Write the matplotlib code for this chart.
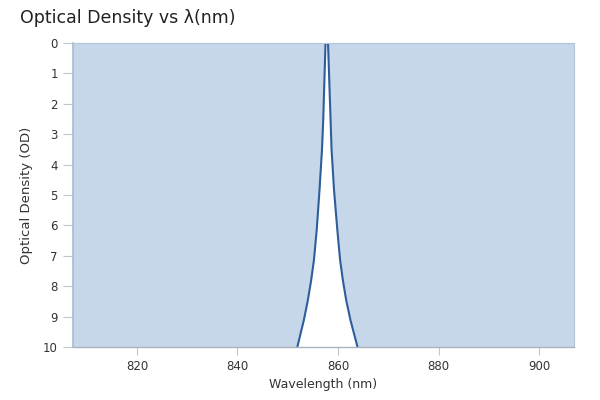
import matplotlib.pyplot as plt

# values (OD beyond 10 runs off the plot)
wavelength = [807.0, 850.0, 852.0, 853.2, 854.0, 854.65, 855.2, 855.75, 856.3,
              856.8, 857.05, 857.5, 857.75, 858.0, 858.5, 858.7, 859.2,
              859.85, 860.4, 860.95, 861.6, 862.45, 863.75, 866.0, 907.0]
od = [11.3, 11.3, 9.93, 9.11, 8.45, 7.8, 7.14, 6.15, 4.85,
      3.5, 2.5, 0.0, 0.0, 0.0, 2.5, 3.5, 4.85,
      6.15, 7.14, 7.8, 8.45, 9.11, 9.93, 11.5, 11.5]

x_ticks = [820, 840, 860, 880, 900]
y_ticks = list(range(0, 11))

fill_col = '#c6d7ea'
line_col = '#2e5d9b'
grey = '#a9b3bf'
txt = '#333333'

plt.rcParams['font.family'] = ['DejaVu Sans']

fig = plt.figure(figsize=(6, 4), dpi=100)
ax = fig.add_axes([73 / 600, 1 - 347 / 400, (574 - 73) / 600, (347 - 43) / 400])

ax.fill_between(wavelength, 0, od, color=fill_col, lw=0)
ax.plot(wavelength, od, color=line_col, lw=1.5)

ax.set_xlim(807.3, 906.9)
ax.set_ylim(10, 0)
ax.set_xticks(x_ticks)
ax.set_yticks(y_ticks)

for s in ['top', 'right']:
    ax.spines[s].set_color('#b4c4d6')
    ax.spines[s].set_linewidth(0.8)
ax.spines['left'].set_color('#a7bbd3')
ax.spines['left'].set_linewidth(1.2)
ax.spines['bottom'].set_color(grey)
ax.spines['bottom'].set_linewidth(1.0)

ax.tick_params(axis='y', length=7, width=0.8, color='#c0c6ce', pad=4,
               labelsize=8.5, labelcolor=txt)
ax.tick_params(axis='x', length=6, width=0.8, color='#c0c6ce', pad=3,
               labelsize=8.5, labelcolor=txt)

ax.set_xlabel('Wavelength (nm)', fontsize=9, color=txt, labelpad=4)
ax.set_ylabel('Optical Density (OD)', fontsize=9.5, color=txt, labelpad=7)

fig.text(20 / 600, 1 - 18 / 400, 'Optical Density vs λ(nm)', fontsize=12.5,
         color='#222222', va='center', ha='left')

fig.savefig('out.png', dpi=100)
